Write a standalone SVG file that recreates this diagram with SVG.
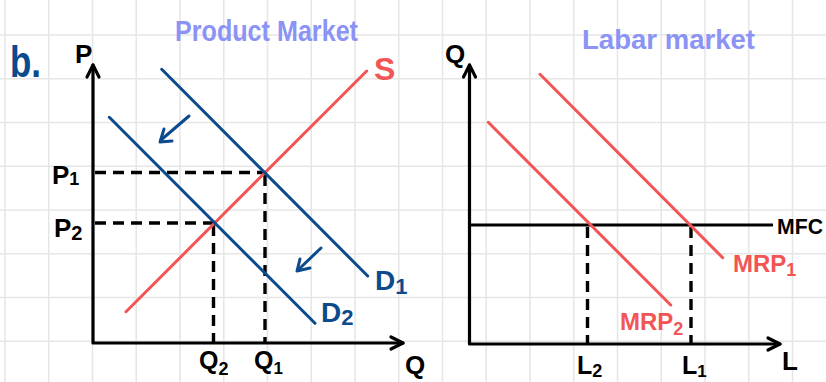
<svg xmlns="http://www.w3.org/2000/svg" width="826" height="382" viewBox="0 0 826 382">
<defs>
<style>
.grid line{stroke:#e6e6e6;stroke-width:1.6}
.ax{stroke:#000;stroke-width:3.2;fill:none;stroke-linecap:round;stroke-linejoin:round}
.dash{stroke:#000;stroke-width:3.4;stroke-dasharray:11 7;fill:none}
.blue{stroke:#0b4a8c;stroke-width:3;fill:none;stroke-linecap:round;stroke-linejoin:round}
.red{stroke:#f25555;stroke-width:3;fill:none;stroke-linecap:round}
.t{font-family:"Liberation Sans",Arial,sans-serif;font-weight:bold}
.tb{fill:#000}
.tbl{fill:#0b4a8c}
.tr{fill:#f25555}
.tl{fill:#8b93f5}
</style>
</defs>
<rect width="826" height="382" fill="#fff"/>
<g id="grid" class="grid">
<line x1="5" y1="0" x2="5" y2="382"/><line x1="48.75" y1="0" x2="48.75" y2="382"/><line x1="92.5" y1="0" x2="92.5" y2="382"/><line x1="136.25" y1="0" x2="136.25" y2="382"/><line x1="180" y1="0" x2="180" y2="382"/><line x1="223.75" y1="0" x2="223.75" y2="382"/><line x1="267.5" y1="0" x2="267.5" y2="382"/><line x1="311.25" y1="0" x2="311.25" y2="382"/><line x1="355" y1="0" x2="355" y2="382"/><line x1="398.75" y1="0" x2="398.75" y2="382"/><line x1="442.5" y1="0" x2="442.5" y2="382"/><line x1="486.25" y1="0" x2="486.25" y2="382"/><line x1="530" y1="0" x2="530" y2="382"/><line x1="573.75" y1="0" x2="573.75" y2="382"/><line x1="617.5" y1="0" x2="617.5" y2="382"/><line x1="661.25" y1="0" x2="661.25" y2="382"/><line x1="705" y1="0" x2="705" y2="382"/><line x1="748.75" y1="0" x2="748.75" y2="382"/><line x1="792.5" y1="0" x2="792.5" y2="382"/>
<line x1="0" y1="35" x2="826" y2="35"/><line x1="0" y1="78.75" x2="826" y2="78.75"/><line x1="0" y1="122.5" x2="826" y2="122.5"/><line x1="0" y1="166.25" x2="826" y2="166.25"/><line x1="0" y1="210" x2="826" y2="210"/><line x1="0" y1="253.75" x2="826" y2="253.75"/><line x1="0" y1="297.5" x2="826" y2="297.5"/><line x1="0" y1="341.25" x2="826" y2="341.25"/>
</g>
<g id="titles">
<text class="t tbl" x="10" y="77" font-size="44" textLength="31" lengthAdjust="spacingAndGlyphs">b.</text>
<text class="t tl" x="175" y="41" font-size="30" textLength="183" lengthAdjust="spacingAndGlyphs">Product Market</text>
<text class="t tl" x="582" y="49" font-size="28" textLength="173" lengthAdjust="spacingAndGlyphs">Labar market</text>
</g>
<g id="product-market">
<g id="axes-left">
<path class="ax" d="M93 65 V343 H403"/>
<path class="ax" d="M87 77 L93 65 L99 77"/>
<path class="ax" d="M391 337 L403 343 L391 349"/>
<text class="t tb" x="75" y="63" font-size="26">P</text>
<text class="t tb" x="405" y="374" font-size="26">Q</text>
</g>
<g id="connectors">
<path class="dash" d="M95 172.5 H265"/>
<path class="dash" d="M265 175 V343"/>
<path class="dash" d="M95 223 H214"/>
<path class="dash" d="M213.5 225 V343"/>
<path class="dash" d="M587.5 227 V343"/>
<path class="dash" d="M691 227 V343"/>
<path class="blue" d="M189 116 L161 140"/>
<path class="blue" d="M164 129 L160 142 L172 141"/>
<path class="blue" d="M321 248 L298 270"/>
<path class="blue" d="M300 259 L297 271 L310 268"/>
</g>
<g id="supply-S">
<line class="red" x1="126" y1="311.7" x2="366.7" y2="71"/>
<text class="t tr" x="374" y="80" font-size="32">S</text>
</g>
<g id="demand-D1">
<line class="blue" x1="161.7" y1="69.3" x2="367.7" y2="276"/>
<text class="t tbl" x="375" y="290" font-size="28">D<tspan font-size="22" dy="4">1</tspan></text>
</g>
<g id="demand-D2">
<line class="blue" x1="109.3" y1="117.3" x2="315" y2="323.3"/>
<text class="t tbl" x="321" y="322" font-size="28">D<tspan font-size="22" dy="3">2</tspan></text>
</g>
<g id="label-P1"><text class="t tb" x="52" y="184" font-size="26">P<tspan font-size="18" dy="1">1</tspan></text></g>
<g id="label-P2"><text class="t tb" x="54" y="237" font-size="26">P<tspan font-size="20" dy="3">2</tspan></text></g>
<g id="label-Q2"><text class="t tb" x="199" y="369" font-size="25">Q<tspan font-size="18" dy="6">2</tspan></text></g>
<g id="label-Q1"><text class="t tb" x="254" y="369" font-size="25">Q<tspan font-size="17" dy="5">1</tspan></text></g>
</g>
<g id="labor-market">
<g id="axes-right">
<path class="ax" d="M469.5 65 V344 H780"/>
<path class="ax" d="M463.5 77 L469.5 65 L475.5 77"/>
<path class="ax" d="M768 338 L780 344 L768 350"/>
<text class="t tb" x="445" y="63" font-size="26">Q</text>
<text class="t tb" x="782" y="370" font-size="26">L</text>
</g>
<g id="MFC">
<line x1="469.5" y1="225" x2="773" y2="225" stroke="#000" stroke-width="3.2"/>
<text class="t tb" x="777" y="234" font-size="22" textLength="46" lengthAdjust="spacingAndGlyphs">MFC</text>
</g>
<g id="MRP1">
<line class="red" x1="540" y1="74.3" x2="722.7" y2="257.7"/>
<text class="t tr" x="733" y="272" font-size="24">MRP<tspan font-size="18" dy="4">1</tspan></text>
</g>
<g id="MRP2">
<line class="red" x1="488.3" y1="122.3" x2="670.7" y2="305"/>
<text class="t tr" x="620" y="330" font-size="24">MRP<tspan font-size="18" dy="5">2</tspan></text>
</g>
<g id="label-L2"><text class="t tb" x="577" y="374" font-size="25">L<tspan font-size="18" dy="3">2</tspan></text></g>
<g id="label-L1"><text class="t tb" x="682" y="374" font-size="25">L<tspan font-size="17" dy="3">1</tspan></text></g>
</g>
</svg>
